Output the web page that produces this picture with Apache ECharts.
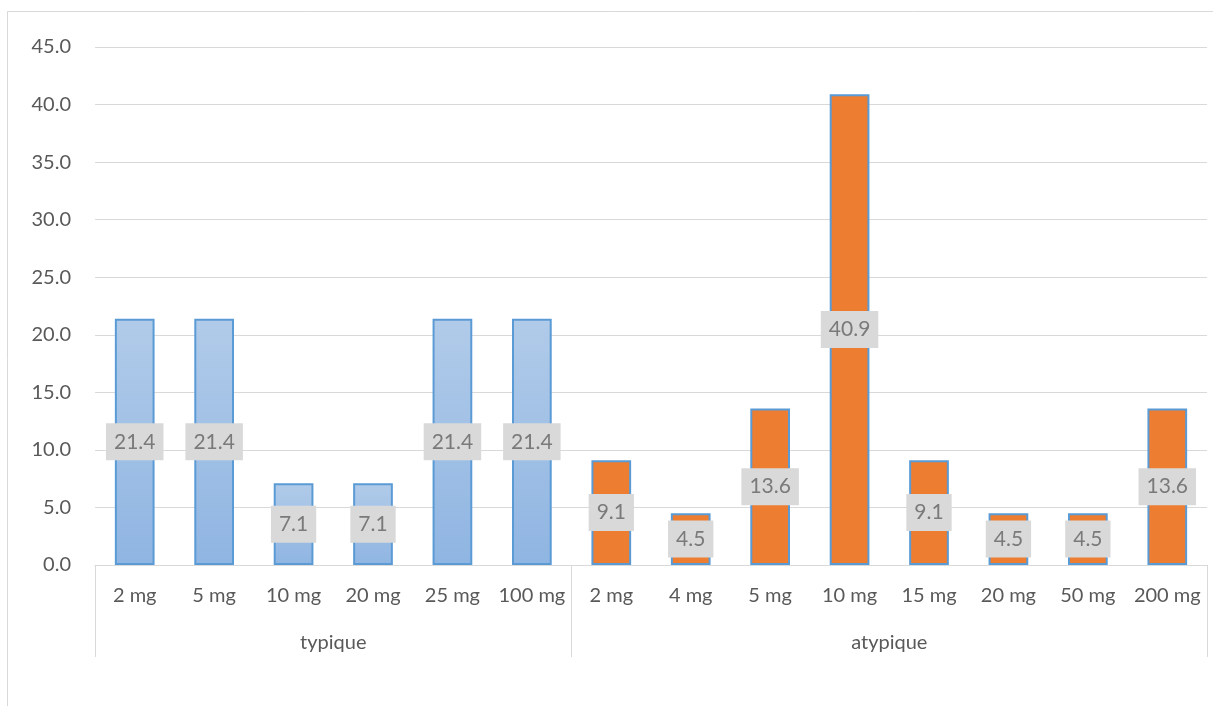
<!DOCTYPE html>
<html>
<head>
<meta charset="utf-8">
<script src="https://cdn.jsdelivr.net/npm/echarts@6/dist/echarts.min.js"></script>
<style>
  html, body { margin: 0; padding: 0; background: #fff; }
  #chart { width: 1213px; height: 706px; }
</style>
</head>
<body>
<div id="chart"></div>
<script>
// Dose categories and percentages per antipsychotic family
const typiqueDoses = ['2 mg', '5 mg', '10 mg', '20 mg', '25 mg', '100 mg'];
const typiqueValues = [21.4, 21.4, 7.1, 7.1, 21.4, 21.4];
const atypiqueDoses = ['2 mg', '4 mg', '5 mg', '10 mg', '15 mg', '20 mg', '50 mg', '200 mg'];
const atypiqueValues = [9.1, 4.5, 13.6, 40.9, 9.1, 4.5, 4.5, 13.6];
const groupNames = ['typique', 'atypique'];
const yTicks = [0, 5, 10, 15, 20, 25, 30, 35, 40, 45];

const FONT = 'Lato, "Open Sans", sans-serif';
const categories = typiqueDoses.concat(atypiqueDoses);
const nT = typiqueDoses.length;
const nA = atypiqueDoses.length;
const nAll = categories.length;

// Half-slot positions for the group axis: boundaries at even indices,
// group centres at the middle of each group's span.
const halfSteps = [];
for (let i = 0; i <= nAll * 2; i++) halfSteps.push(String(i));
const groupBoundaries = [0, nT * 2, nAll * 2];
const groupCentres = { [nT]: groupNames[0], [nT * 2 + nA]: groupNames[1] };

const typSeries = typiqueValues.concat(new Array(nA).fill(null));
const atySeries = new Array(nT).fill(null).concat(atypiqueValues);

const labelStyle = {
  show: true,
  position: 'inside',
  formatter: p => p.value.toFixed(1),
  color: '#7a7a7a',
  fontFamily: FONT,
  fontSize: 21,
  backgroundColor: '#d9d9d9',
  padding: [9, 8, 7, 8]
};

const chart = echarts.init(document.getElementById('chart'), null, { renderer: 'canvas' });
chart.setOption({
  animation: false,
  backgroundColor: '#ffffff',
  graphic: [{
    type: 'rect',
    shape: { x: 7.5, y: 11.5, width: 1230, height: 730 },
    style: { fill: null, stroke: '#d9d9d9', lineWidth: 1 },
    silent: true, z: -10
  }],
  grid: { left: 95, right: 6, top: 47, bottom: 141, containLabel: false },
  xAxis: [{
    type: 'category',
    data: categories,
    position: 'bottom',
    axisLine: { show: true, lineStyle: { color: '#d9d9d9', width: 1 } },
    axisTick: { show: false },
    axisLabel: { interval: 0, color: '#595959', fontFamily: FONT, fontSize: 20, margin: 21 },
    splitLine: { show: false }
  }, {
    type: 'category',
    data: halfSteps,
    position: 'bottom',
    boundaryGap: false,
    axisLine: { show: false },
    axisTick: {
      show: true,
      length: 92,
      interval: (idx) => groupBoundaries.indexOf(idx) >= 0,
      lineStyle: { color: '#d9d9d9', width: 1 }
    },
    axisLabel: {
      interval: 0,
      margin: 68,
      color: '#595959', fontFamily: FONT, fontSize: 20,
      formatter: (v, idx) => groupCentres[idx] || ''
    },
    splitLine: { show: false }
  }],
  yAxis: {
    type: 'value',
    min: yTicks[0],
    max: yTicks[yTicks.length - 1],
    interval: yTicks[1] - yTicks[0],
    axisLine: { show: false },
    axisTick: { show: false },
    axisLabel: { color: '#595959', fontFamily: FONT, fontSize: 20, margin: 24, formatter: v => v.toFixed(1) },
    splitLine: { lineStyle: { color: '#d9d9d9', width: 1 } }
  },
  series: [{
    name: 'typique',
    type: 'bar',
    xAxisIndex: 0,
    data: typSeries,
    barWidth: '50%',
    barGap: '-100%',
    itemStyle: {
      color: new echarts.graphic.LinearGradient(0, 0, 0, 1, [
        { offset: 0, color: '#b1cbe9' },
        { offset: 1, color: '#8fb5e2' }
      ]),
      borderColor: '#5b9bd5',
      borderWidth: 2
    },
    label: labelStyle
  }, {
    name: 'atypique',
    type: 'bar',
    xAxisIndex: 0,
    data: atySeries,
    barWidth: '50%',
    barGap: '-100%',
    itemStyle: { color: '#ed7d31', borderColor: '#5b9bd5', borderWidth: 2 },
    label: labelStyle
  }]
});
</script>
</body>
</html>
